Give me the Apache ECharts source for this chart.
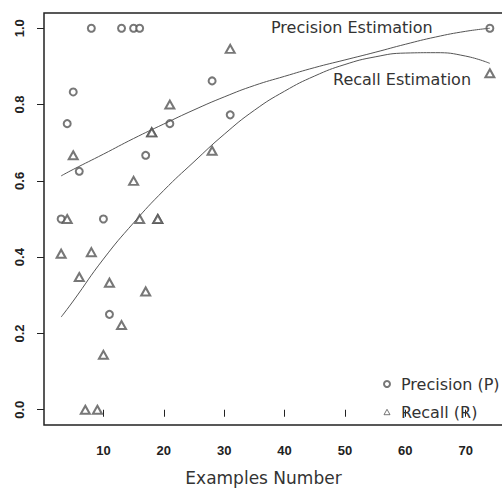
<!DOCTYPE html>
<html lang="en">
<head>
    <meta charset="UTF-8">
    <title>Precision / Recall</title>
    <script src="https://cdn.jsdelivr.net/npm/echarts@6/dist/echarts.min.js"></script>
    <style>
        html, body { margin: 0; padding: 0; background: #fff; }
        #chart { width: 502px; height: 488px; }
    </style>
</head>
<body>
    <div id="chart"></div>
    <script>
        // precision points (circles)
        var precX = [3, 4, 5, 6, 8, 10, 11, 13, 15, 16, 17, 21, 28, 31, 74];
        var precY = [0.5, 0.75, 0.833, 0.625, 1, 0.5, 0.25, 1, 1, 1, 0.667, 0.75, 0.862, 0.773, 1];

        // recall points (triangles), some repeated
        var recX = [3, 4, 5, 6, 7, 8, 9, 10, 11, 13, 15, 16, 17, 18, 18, 19, 19, 21, 28, 31, 74];
        var recY = [0.409, 0.5, 0.667, 0.348, 0, 0.413, 0, 0.144, 0.333, 0.222, 0.6, 0.5, 0.31, 0.727, 0.727, 0.5, 0.5, 0.8, 0.679, 0.946, 0.882];

        // estimation curves
        var fitX = [3, 5, 10, 15, 20, 25, 30, 35, 40, 45, 50, 55, 60, 65, 70, 74];
        var precFit = [0.613, 0.630, 0.670, 0.711, 0.749, 0.786, 0.820, 0.850, 0.874, 0.897, 0.917, 0.937, 0.958, 0.977, 0.992, 1.0];
        var recFit = [0.243, 0.285, 0.395, 0.490, 0.575, 0.650, 0.722, 0.785, 0.835, 0.875, 0.905, 0.925, 0.935, 0.936, 0.927, 0.908];

        var xTicks = [10, 20, 30, 40, 50, 60, 70];
        var yTicks = [0, 0.2, 0.4, 0.6, 0.8, 1.0];

        function pairs(xs, ys) {
            var out = [];
            for (var i = 0; i < xs.length; i++) out.push([xs[i], ys[i]]);
            return out;
        }

        var ink = '#333';
        var myChart = echarts.init(document.getElementById('chart'), null, { renderer: 'svg' });

        var option = {
            animation: false,
            backgroundColor: '#fff',
            grid: {
                left: 44, right: -5, top: 13, bottom: 63,
                outerBoundsMode: 'none',
                show: true,
                borderColor: '#222',
                borderWidth: 1.5
            },
            xAxis: {
                type: 'value',
                min: 0.16,
                max: 76.84,
                splitLine: { show: false },
                axisLine: { show: false },
                axisTick: { show: true, length: 7, lineStyle: { color: '#222' }, customValues: xTicks },
                axisLabel: {
                    customValues: xTicks, margin: 19,
                    fontFamily: 'Liberation Sans', fontSize: 13, color: '#222', fontWeight: 'bold'
                },
                name: 'Examples Number',
                nameLocation: 'middle',
                nameGap: 44,
                nameTextStyle: { fontFamily: 'DejaVu Sans', fontSize: 17, color: ink, padding: [0, 24, 0, 0] }
            },
            yAxis: {
                type: 'value',
                min: -0.04,
                max: 1.04,
                splitLine: { show: false },
                axisLine: { show: false },
                axisTick: { show: true, length: 7, lineStyle: { color: '#222' }, customValues: yTicks },
                axisLabel: {
                    customValues: yTicks, rotate: 90, margin: 18,
                    fontFamily: 'Liberation Sans', fontSize: 13, color: '#222', fontWeight: 'bold',
                    formatter: function (v) { return v.toFixed(1); }
                }
            },
            legend: {
                data: [
                    { name: 'Precision (P)', icon: 'emptyCircle' },
                    {
                        name: 'Recall (R)', icon: 'path://M5,0 L10,9 L0,9 Z',
                        itemStyle: { color: 'rgba(0,0,0,0)', borderColor: '#555', borderWidth: 1 }
                    }
                ],
                orient: 'vertical',
                left: 383,
                top: 376,
                padding: 0,
                itemWidth: 6,
                itemHeight: 6,
                itemGap: 12,
                itemStyle: { borderWidth: 1 },
                textStyle: { fontFamily: 'DejaVu Sans', fontSize: 16, color: ink, padding: [0, 0, 0, 6] }
            },
            graphic: [
                { type: 'text', left: 271, top: 19, style: { text: 'Precision Estimation', font: '16px "DejaVu Sans"', fill: ink } },
                { type: 'text', left: 333, top: 71, style: { text: 'Recall Estimation', font: '16px "DejaVu Sans"', fill: ink } }
            ],
            series: [
                {
                    name: 'Precision (P)',
                    type: 'scatter',
                    symbol: 'emptyCircle',
                    symbolSize: 7,
                    itemStyle: { color: '#555', borderColor: '#555', borderWidth: 1 },
                    data: pairs(precX, precY)
                },
                {
                    name: 'Recall (R)',
                    type: 'scatter',
                    symbol: 'emptyTriangle',
                    symbolSize: [9, 8],
                    itemStyle: { color: '#555', borderColor: '#555', borderWidth: 1 },
                    data: pairs(recX, recY)
                },
                {
                    name: 'precFit',
                    type: 'line',
                    smooth: true,
                    showSymbol: false,
                    lineStyle: { color: '#555', width: 1 },
                    data: pairs(fitX, precFit)
                },
                {
                    name: 'recFit',
                    type: 'line',
                    smooth: true,
                    showSymbol: false,
                    lineStyle: { color: '#555', width: 1 },
                    data: pairs(fitX, recFit)
                }
            ]
        };
        myChart.setOption(option);
    </script>
</body>
</html>
